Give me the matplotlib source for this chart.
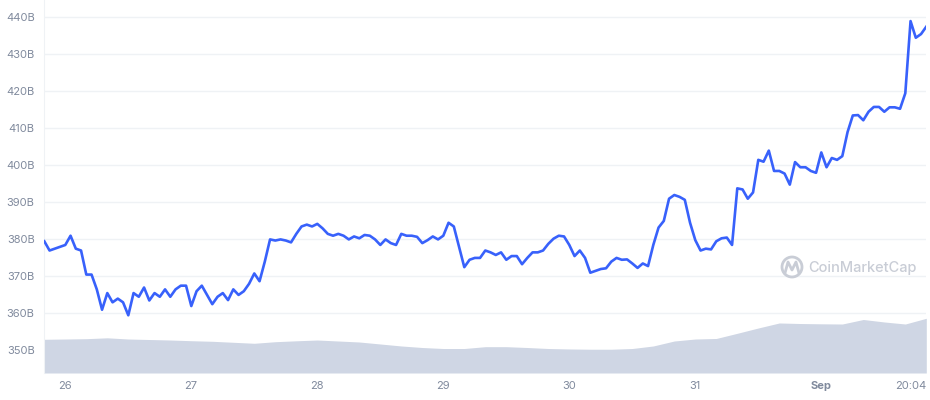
import numpy as np
import matplotlib.pyplot as plt
from matplotlib.patches import Circle
from matplotlib.lines import Line2D
from matplotlib.transforms import IdentityTransform

plt.rcParams['font.family'] = ['Inter', 'DejaVu Sans']

# total market cap (billion USD), hourly from Aug 25 20:04 to Sep 1 20:04
mcap = [379.5, 377.0, 377.5, 378.0, 378.5, 381.0, 377.5, 377.0, 370.5, 370.5,
        366.5, 361.0, 365.5, 363.0, 364.0, 363.0, 359.5, 365.5, 364.5, 367.0,
        363.5, 365.5, 364.5, 366.5, 364.5, 366.5, 367.5, 367.5, 362.0, 366.0,
        367.5, 365.0, 362.5, 364.5, 365.5, 363.6, 366.5, 365.0, 366.0, 368.0,
        370.8, 368.7, 374.0, 380.0, 379.7, 380.0, 379.7, 379.2, 381.5, 383.5,
        384.0, 383.5, 384.2, 383.0, 381.5, 381.0, 381.5, 381.0, 380.0, 380.8,
        380.3, 381.2, 381.0, 380.0, 378.5, 380.0, 379.0, 378.5, 381.5, 381.0,
        381.0, 380.7, 379.0, 379.8, 380.8, 380.0, 381.0, 384.5, 383.5, 378.0,
        372.5, 374.5, 375.0, 375.0, 377.0, 376.5, 375.8, 376.5, 374.5, 375.5,
        375.5, 373.3, 375.0, 376.5, 376.5, 377.0, 378.8, 380.2, 381.0, 380.8,
        378.5, 375.5, 377.0, 375.0, 371.0, 371.5, 372.0, 372.2, 374.0, 375.0,
        374.5, 374.6, 373.5, 372.3, 373.5, 372.8, 378.5, 383.2, 385.0, 391.0,
        392.0, 391.5, 390.7, 384.5, 379.8, 377.0, 377.5, 377.3, 379.5, 380.3,
        380.5, 378.5, 393.8, 393.5, 391.0, 392.7, 401.5, 401.0, 404.0, 398.5,
        398.5, 397.8, 394.8, 400.9, 399.5, 399.5, 398.5, 398.0, 403.5, 399.5,
        402.0, 401.5, 402.5, 409.0, 413.5, 413.6, 412.2, 414.5, 415.8, 415.8,
        414.5, 415.7, 415.7, 415.3, 419.5, 439.0, 434.5, 435.5, 437.5]
hours = np.arange(len(mcap))

# 24h volume (billion USD), every 4 hours
volume = [81.3, 82.0, 82.8, 84.9, 82.0, 80.8, 79.6, 77.9, 76.5, 74.1, 71.7,
          75.5, 77.7, 79.6, 77.2, 74.8, 70.0, 65.2, 61.5, 59.1, 59.1, 63.5,
          63.5, 61.5, 59.1, 57.9, 57.2, 57.2, 59.1, 65.2, 77.2, 82.0, 83.3,
          95.8, 108.6, 120.7, 119.4, 118.7, 118.2, 129.1, 123.1, 118.2, 132.0]
vol_hours = np.arange(len(volume)) * 4
vol_max = 900

tick_hours = [3.933 + 24 * k for k in range(7)] + [168]
tick_labels = ['26', '27', '28', '29', '30', '31', 'Sep', '20:04']
y_ticks = np.arange(350, 441, 10)

fig = plt.figure(figsize=(9.3, 4), dpi=100)
ax = fig.add_axes([44.3 / 930, 27 / 400, 882 / 930, 373 / 400])
ax.set_axisbelow(True)

ax.fill_between(vol_hours, 0, np.array(volume) / vol_max, color='#cfd6e4',
                lw=0, zorder=1, transform=ax.get_xaxis_transform())
ax.plot(hours, mcap, color='#3861fb', lw=1.9, zorder=3)

ax.set_xlim(0, 168)
ax.set_ylim(343.9, 444.7)
ax.set_yticks(y_ticks)
ax.set_yticklabels([f'{v}B' for v in y_ticks])
ax.set_xticks(tick_hours)
ax.set_xticklabels(tick_labels)
ax.tick_params(length=0, labelsize=8, colors='#808a9d')
ax.tick_params(axis='y', pad=7)
ax.tick_params(axis='x', pad=6)
xl = ax.get_xticklabels()
xl[6].set_fontweight('bold')
xl[7].set_horizontalalignment('right')
ax.grid(axis='y', color='#eff2f5', lw=1)
for s in ['top', 'right', 'bottom']:
    ax.spines[s].set_visible(False)
ax.spines['left'].set_color('#eff2f5')

# watermark
wm = '#c9cdd6'
fig.add_artist(Circle((792, 400 - 267), 10, transform=IdentityTransform(),
                      fill=False, ec=wm, lw=2))
fig.add_artist(Line2D([785, 788, 792, 796, 799], [400 - 273, 400 - 262, 400 - 270, 400 - 262, 400 - 273],
                      transform=IdentityTransform(), color=wm, lw=2))
fig.text(808 / 930, 1 - 268 / 400, 'CoinMarketCap', color=wm, fontsize=10.5,
         fontweight='medium', va='center', ha='left')

fig.savefig('out.png', dpi=100)
